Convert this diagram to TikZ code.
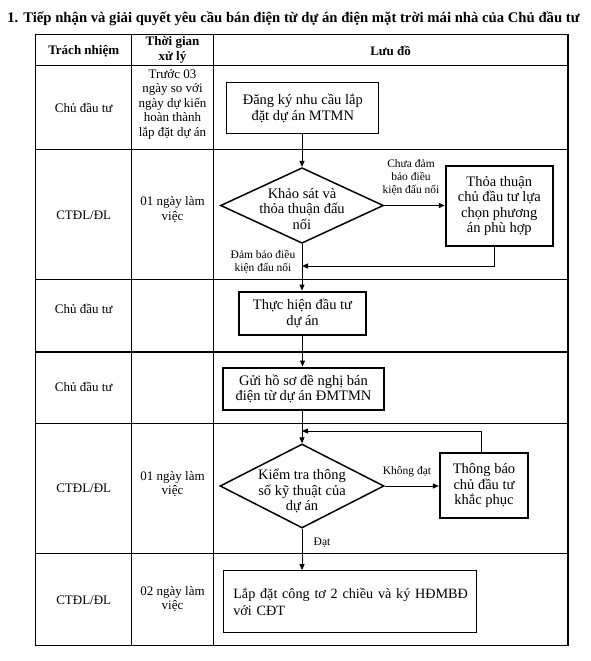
\documentclass[tikz,border=0pt]{standalone}
\usepackage{fontspec}
\setmainfont{Liberation Serif}
\usetikzlibrary{shapes.geometric,arrows.meta}
\begin{document}
\begin{tikzpicture}[x=1pt,y=-1pt,
  grid/.style={line width=1.3pt},
  cell/.style={inner sep=0pt,align=center,font=\fontsize{13}{14.5}\selectfont},
  hcell/.style={inner sep=0pt,align=center,font=\fontsize{13}{14.5}\selectfont\bfseries},
  ftext/.style={inner sep=0pt,align=center,font=\fontsize{14.5}{15.5}\selectfont},
  lbl/.style={inner sep=0pt,align=center,font=\fontsize{11.5}{13}\selectfont},
  thinbox/.style={draw,line width=1pt,inner sep=0pt,align=center,font=\fontsize{14.5}{15.5}\selectfont},
  thickbox/.style={draw,line width=2.3pt,inner sep=0pt,align=center,font=\fontsize{14.5}{15.5}\selectfont},
  dia/.style={draw,shape=diamond,line width=1.5pt,inner sep=0pt},
  arr/.style={line width=1pt,-{Triangle[length=6pt,width=5pt]}},
  ln/.style={line width=1pt}]
\useasboundingbox (0,0) rectangle (591,661);
% title
\node[inner sep=0pt,font=\fontsize{14.7}{16}\selectfont\bfseries] (title) at (293.5,19) {1. Tiếp nhận và giải quyết yêu cầu bán điện từ dự án điện mặt trời mái nhà của Chủ đầu tư};
% table grid
\draw[grid] (35.7,34.3) rectangle (568,645.5);
\foreach \yy in {65.7,149.5,279.3,352,423.3,553.3} \draw[grid] (35.7,\yy) -- (568,\yy);
\draw[grid] (131.7,34.3) -- (131.7,645.5);
\draw[grid] (213.3,34.3) -- (213.3,645.5);
% header
\node[hcell] (h1) at (83.7,51) {Trách nhiệm};
\node[hcell] (h2) at (172.5,50) {Thời gian\\xử lý};
\node[hcell] (h3) at (390.6,51) {Lưu đồ};
% row texts
\node[cell] (r1a) at (83.7,108) {Chủ đầu tư};
\node[cell] (r1b) at (172.5,104) {Trước 03\\ngày so với\\ngày dự kiến\\hoàn thành\\lắp đặt dự án};
\node[cell] (r2a) at (83.7,215) {CTĐL/ĐL};
\node[cell] (r2b) at (172.5,209.5) {01 ngày làm\\việc};
\node[cell] (r3a) at (83.7,309) {Chủ đầu tư};
\node[cell] (r4a) at (83.7,387) {Chủ đầu tư};
\node[cell] (r5a) at (83.7,488) {CTĐL/ĐL};
\node[cell] (r5b) at (172.5,484) {01 ngày làm\\việc};
\node[cell] (r6a) at (83.7,600) {CTĐL/ĐL};
\node[cell] (r6b) at (172.5,599) {02 ngày làm\\việc};
% flow shapes
\node[thinbox,minimum width=152.3pt,minimum height=51.3pt] (b1) at (302.8,108.3) {Đăng ký nhu cầu lắp\\đặt dự án MTMN};
\node[dia,minimum width=163pt,minimum height=75.6pt] (d1) at (302,205.5) {};
\node[ftext] (d1t) at (302,209) {Khảo sát và\\thỏa thuận đấu\\nối};
\node[thickbox,minimum width=106.7pt,minimum height=80pt] (tt) at (499.3,206) {Thỏa thuận\\chủ đầu tư lựa\\chọn phương\\án phù hợp};
\node[thickbox,minimum width=127pt,minimum height=43.3pt] (th) at (302.5,313.3) {Thực hiện đầu tư\\dự án};
\node[thickbox,minimum width=161pt,minimum height=42.3pt] (gs) at (303.5,388.8) {Gửi hồ sơ đề nghị bán\\điện từ dự án ĐMTMN};
\node[dia,minimum width=164pt,minimum height=84pt] (d2) at (302,486) {};
\node[ftext] (d2t) at (302,491) {Kiểm tra thông\\số kỹ thuật của\\dự án};
\node[thickbox,minimum width=88pt,minimum height=65pt] (tb) at (484,485.5) {Thông báo\\chủ đầu tư\\khắc phục};
\node[thinbox,minimum width=252.7pt,minimum height=62.3pt,align=left,text width=244pt,inner xsep=4pt,font=\fontsize{14.2}{16.5}\selectfont] (lc) at (350.3,601.8) {\hspace*{5pt}Lắp đặt công tơ 2 chiều và ký HĐMBĐ\\\hspace*{5pt}với CĐT};
% merge points
\coordinate (m1) at (302,266);
\coordinate (m2) at (302,431);
% connectors
\draw[arr] (b1.south -| d1.north) -- (d1.north);
\draw[arr] (d1.east) -- (d1.east -| tt.west);
\draw[arr] (d1.south) -- (d1.south |- th.north);
\draw[arr] ([xshift=-5pt]tt.south) |- (m1);
\draw[arr] (th.south) -- (th.south |- gs.north);
\draw[arr] (gs.south -| d2.north) -- (d2.north);
\draw[arr] ([xshift=-2.3pt]tb.north) |- (m2);
\draw[arr] (d2.east) -- (d2.east -| tb.west);
\draw[arr] (d2.south) -- (d2.south |- lc.north);
% labels
\node[lbl] (l1) at (411,177) {Chưa đảm\\bảo điều\\kiện đấu nối};
\node[lbl] (l2) at (263,262) {Đảm bảo điều\\kiện đấu nối};
\node[lbl] (l3) at (407,472) {Không đạt};
\node[lbl] (l4) at (322,543) {Đạt};
\end{tikzpicture}
\end{document}
